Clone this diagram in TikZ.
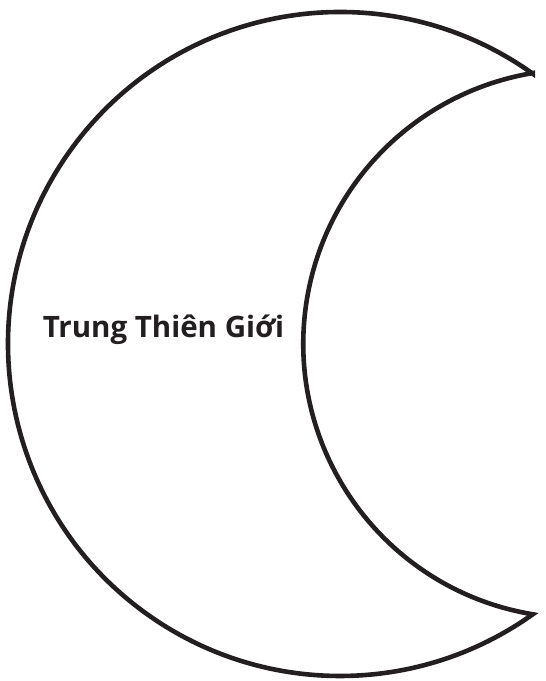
\documentclass[tikz,border=0pt]{standalone}
\usepackage{fontspec}
\setmainfont{Open Sans}
\usetikzlibrary{positioning}
\definecolor{inkcolor}{HTML}{231F20}
\tikzset{
  moon/.style={draw=inkcolor, line width=4.6pt, line join=miter, fill=white},
  lbl/.style={font=\fontsize{29.5}{33}\selectfont\bfseries, text=inkcolor, inner sep=0pt},
}
\begin{document}
\begin{tikzpicture}[x=1pt,y=1pt]
\useasboundingbox (0,0) rectangle (546,681);
% crescent: outer arc round the left, inner arc back up
\coordinate (outer) at (340,337);
\coordinate (inner) at (577.3,337);
\draw[moon] (outer) ++(54.5:332) arc[start angle=54.5, end angle=305.5, radius=332]
  arc[start angle=260.6, end angle=99.4, radius=274.3] -- cycle;
\node[lbl] (realm) at (163.5,351) {Trung Thiên Giới};
\end{tikzpicture}
\end{document}
